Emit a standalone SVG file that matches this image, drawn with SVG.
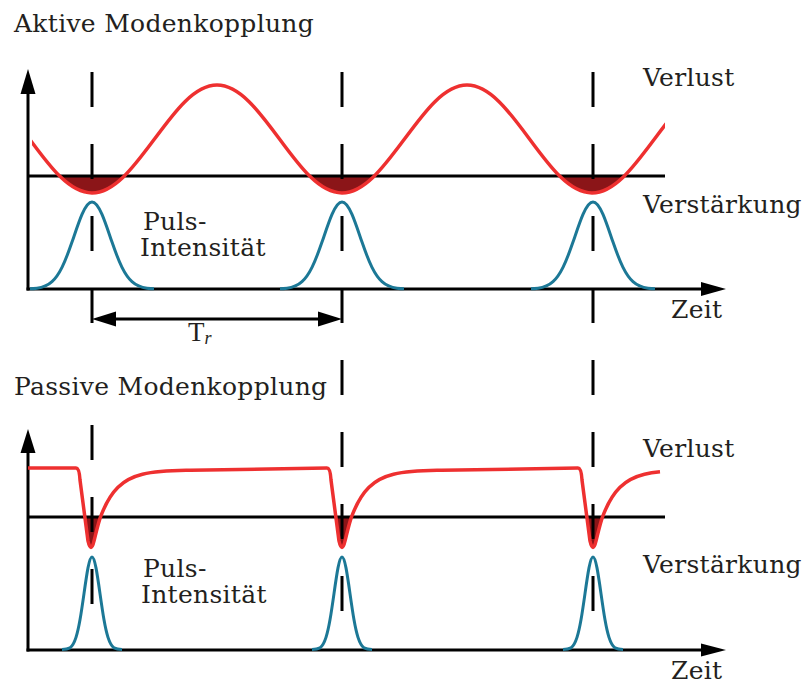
<svg xmlns="http://www.w3.org/2000/svg" xmlns:xlink="http://www.w3.org/1999/xlink" width="807" height="684" viewBox="0 0 807 684">
<style>
.lbl{font-family:"DejaVu Serif","Liberation Serif",serif;font-size:25px;letter-spacing:0.3px;fill:#231f20}
.ax{stroke:#000;stroke-width:3;fill:none}
.dash{stroke:#000;stroke-width:3;fill:none;stroke-dasharray:35 37}
.red{stroke:#ee3030;stroke-width:3.5;fill:none;stroke-linejoin:round}
.blue{stroke:#1c7896;stroke-width:3;fill:none}
.fill{fill:#8b1518;stroke:none}
.head{fill:#000}
</style>
<defs>
<clipPath id="clipTopFill"><rect x="0" y="176" width="807" height="90"/></clipPath>
<clipPath id="clipTopRed"><rect x="32" y="0" width="633" height="300"/></clipPath>
<path id="troughFill" d="M -62.5,139 C -42.12,166.66 -22.62,193 0,193 C 22.62,193 42.12,166.66 62.5,139 Z"/>
<path id="dipFill" d="M -6.15,517 L -3,541 C -1.2,549.5 1.2,549.5 3,541 C 5,533 7.5,522 9.5,517 Z"/>
<path id="pulseTop" d="M -62,288.8 C -59.67,288.7 -57.33,288.5 -55,288.2 C -50,287.5 -45,286.15 -40,281.6 C -36.67,278.57 -33.33,274.0 -30,267.3 C -26.67,260.6 -23.33,251.76 -20,242.1 C -16.67,232.44 -13.33,222.07 -10,214.4 C -6.67,206.73 -3.33,202 0,202 C 3.33,202 6.67,206.73 10,214.4 C 13.33,222.07 16.67,232.44 20,242.1 C 23.33,251.76 26.67,260.6 30,267.3 C 33.33,274.0 36.67,278.57 40,281.6 C 45,286.15 50,287.5 55,288.2 C 57.33,288.5 59.67,288.7 62,288.8"/>
<path id="pulseBot" d="M -30,649.5 C -27.33,649.5 -24.67,649.4 -22,647.9 C -20,646.44 -18,643.69 -16,637.4 C -14.67,633.21 -13.33,627.35 -12,619.8 C -10.67,612.25 -9.33,603 -8,593.6 C -6.67,584.2 -5.33,574.74 -4,567.9 C -2.67,561.06 -1.33,557 0,557 C 1.33,557 2.67,561.06 4,567.9 C 5.33,574.74 6.67,584.2 8,593.6 C 9.33,603 10.67,612.25 12,619.8 C 13.33,627.35 14.67,633.21 16,637.4 C 18,643.69 20,646.44 22,647.9 C 24.67,649.4 27.33,649.5 30,649.5"/>
</defs>

<g id="titles">
<text class="lbl" x="14" y="32">Aktive Modenkopplung</text>
<text class="lbl" x="14" y="395">Passive Modenkopplung</text>
</g>

<g id="top-fills" clip-path="url(#clipTopFill)">
<use xlink:href="#troughFill" href="#troughFill" class="fill" transform="translate(92,0)"/>
<use xlink:href="#troughFill" href="#troughFill" class="fill" transform="translate(342,0)"/>
<use xlink:href="#troughFill" href="#troughFill" class="fill" transform="translate(592,0)"/>
</g>
<g id="bottom-fills">
<use xlink:href="#dipFill" href="#dipFill" class="fill" transform="translate(91,0)"/>
<use xlink:href="#dipFill" href="#dipFill" class="fill" transform="translate(342,0)"/>
<use xlink:href="#dipFill" href="#dipFill" class="fill" transform="translate(593,0)"/>
</g>

<g id="connectors">
<line class="ax" x1="28" y1="176" x2="665" y2="176"/>
<line class="ax" x1="28" y1="517" x2="665" y2="517"/>
<line class="dash" x1="92" y1="72" x2="92" y2="323"/>
<line class="dash" x1="92" y1="425" x2="92" y2="604"/>
<line class="dash" x1="342" y1="72" x2="342" y2="611"/>
<line class="dash" x1="593" y1="72" x2="593" y2="611"/>
<line class="ax" x1="28" y1="290.5" x2="28" y2="90"/>
<polygon class="head" points="28,69 20.5,94 35.5,94"/>
<line class="ax" x1="26.5" y1="289" x2="705" y2="289"/>
<polygon class="head" points="726,289 701,282 701,296"/>
<line class="ax" x1="28" y1="651.5" x2="28" y2="450"/>
<polygon class="head" points="28,429 20.5,453 35.5,453"/>
<line class="ax" x1="26.5" y1="650" x2="705" y2="650"/>
<polygon class="head" points="726,650 701,643.5 701,656.5"/>
<line class="ax" x1="110" y1="319" x2="324" y2="319"/>
<polygon class="head" points="92,319 116,311.5 116,326.5"/>
<polygon class="head" points="342,319 318,311.5 318,326.5"/>
</g>

<g id="loss-top" clip-path="url(#clipTopRed)">
<path class="red" d="M 29.5,139 C 49.88,166.66 69.38,193 92,193 C 114.62,193 134.12,166.34 154.5,139 C 174.88,111.34 194.38,85 217,85 C 239.62,85 259.12,111.34 279.5,139 C 299.88,166.66 319.38,193 342,193 C 364.62,193 384.12,166.34 404.5,139 C 424.88,111.34 444.38,85 467,85 C 489.62,85 509.12,111.34 529.5,139 C 549.88,166.66 569.38,193 592,193 C 614.62,193 634.12,166.34 654.5,139 C 674.88,111.34 694.38,85 717,85"/>
</g>

<g id="loss-bottom">
<path class="red" d="M 28,468 L 76,468 C 78.5,468 79.5,472 80,480 L 88,541 C 89.8,549.5 92.2,549.5 94,541 C 96,533 98.5,522 100.5,517 C 106.33,501.33 112.17,493.05 118,487.29 C 126.17,479.22 134.33,476.25 142.5,474.26 C 158.5,470.36 174.5,470.52 190.5,470.27 L 327,468 C 329.5,468 330.5,472 331,480 L 339,541 C 340.8,549.5 343.2,549.5 345,541 C 347,533 349.5,522 351.5,517 C 357.33,501.33 363.17,493.05 369,487.29 C 377.17,479.22 385.33,476.25 393.5,474.26 C 409.5,470.36 425.5,470.52 441.5,470.27 L 578,468 C 580.5,468 581.5,472 582,480 L 590,541 C 591.8,549.5 594.2,549.5 596,541 C 598,533 600.5,522 602.5,517 C 608.33,501.33 614.17,493.05 620,487.29 C 628.17,479.22 636.33,476.25 644.5,474.26 C 649.67,473 654.83,472.28 660,471.76"/>
</g>

<g id="pulses-top">
<use xlink:href="#pulseTop" href="#pulseTop" class="blue" transform="translate(92,0)"/>
<use xlink:href="#pulseTop" href="#pulseTop" class="blue" transform="translate(342,0)"/>
<use xlink:href="#pulseTop" href="#pulseTop" class="blue" transform="translate(593,0)"/>
</g>
<g id="pulses-bottom">
<use xlink:href="#pulseBot" href="#pulseBot" class="blue" transform="translate(92,0)"/>
<use xlink:href="#pulseBot" href="#pulseBot" class="blue" transform="translate(342,0)"/>
<use xlink:href="#pulseBot" href="#pulseBot" class="blue" transform="translate(593,0)"/>
</g>

<g id="labels-top">
<text class="lbl" x="643" y="86">Verlust</text>
<text class="lbl" x="643" y="213">Verstärkung</text>
<text class="lbl"><tspan x="143" y="230">Puls-</tspan><tspan x="140" y="256">Intensität</tspan></text>
<text class="lbl" x="671" y="318">Zeit</text>
<text x="188" y="341" style="font-family:'Liberation Serif',serif;font-size:27px;fill:#231f20">T<tspan style="font-style:italic;font-size:18px" dy="3">r</tspan></text>
</g>
<g id="labels-bottom">
<text class="lbl" x="643" y="457">Verlust</text>
<text class="lbl" x="643" y="573">Verstärkung</text>
<text class="lbl"><tspan x="143" y="577">Puls-</tspan><tspan x="141" y="603">Intensität</tspan></text>
<text class="lbl" x="671" y="679">Zeit</text>
</g>
</svg>
